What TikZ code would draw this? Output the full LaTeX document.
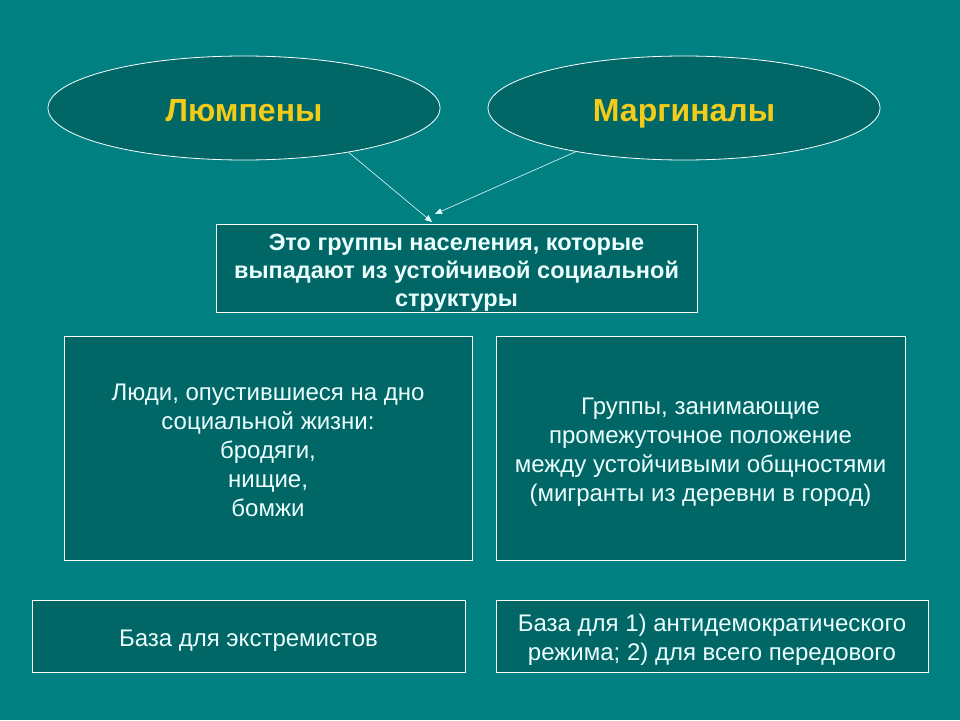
\documentclass[tikz,border=0pt]{standalone}
\usepackage{fontspec}
\setmainfont{Liberation Sans}
\usetikzlibrary{shapes.geometric,arrows.meta}
\definecolor{bgteal}{RGB}{0,128,128}
\definecolor{boxfill}{RGB}{0,102,102}
\definecolor{txtcol}{RGB}{236,255,255}
\definecolor{titlecol}{RGB}{242,204,24}
\tikzset{
  x=1pt,y=-1pt,
  oval/.style={ellipse,draw=white,line width=0.8pt,fill=boxfill,minimum width=392pt,minimum height=104pt,inner sep=0pt,font=\bfseries\fontsize{32}{36}\selectfont,text=titlecol,text height=27pt,text depth=0pt},
  infobox/.style={draw=white,line width=0.8pt,fill=boxfill,inner sep=0pt},
  boxtext/.style={align=center,text=txtcol,font=\fontsize{24}{29}\selectfont,inner sep=0pt},
  conn/.style={draw=white!90!cyan,line width=0.6pt,-{Triangle[length=7pt,width=6pt]}}
}
\begin{document}
\begin{tikzpicture}
\fill[bgteal] (0,0) rectangle (960,720);
\useasboundingbox (0,0) rectangle (960,720);
\node[oval] (lump) at (244,108) {Люмпены};
\node[oval] (marg) at (684,108) {Маргиналы};
\node[infobox,minimum width=481pt,minimum height=88pt,
  label={[boxtext,font=\bfseries\fontsize{23.5}{28}\selectfont,yshift=-5pt]center:{Это группы населения, которые\\выпадают из устойчивой социальной\\структуры}}] (def) at (456.5,268) {};
\coordinate (tipL) at (432,222);
\coordinate (tipR) at (435,214);
\draw[conn] (lump.-23.8) -- (tipL);
\draw[conn] (marg.-158.9) -- (tipR);
\node[infobox,minimum width=408pt,minimum height=224pt,
  label={[boxtext,yshift=-2pt]center:{Люди, опустившиеся на дно\\социальной жизни:\\бродяги,\\нищие,\\бомжи}}] (left) at (268,448) {};
\node[infobox,minimum width=409pt,minimum height=224pt,
  label={[boxtext,yshift=-4pt]center:{Группы, занимающие\\промежуточное положение\\между устойчивыми общностями\\(мигранты из деревни в город)}}] (right) at (700.5,448) {};
\node[infobox,minimum width=433pt,minimum height=72pt,
  label={[boxtext,yshift=-5pt]center:{База для экстремистов}}] (bl) at (248.5,636) {};
\node[infobox,minimum width=432pt,minimum height=72pt,
  label={[boxtext,yshift=-4pt]center:{База для 1) антидемократического\\режима; 2) для всего передового}}] (br) at (712,636) {};
\end{tikzpicture}
\end{document}
